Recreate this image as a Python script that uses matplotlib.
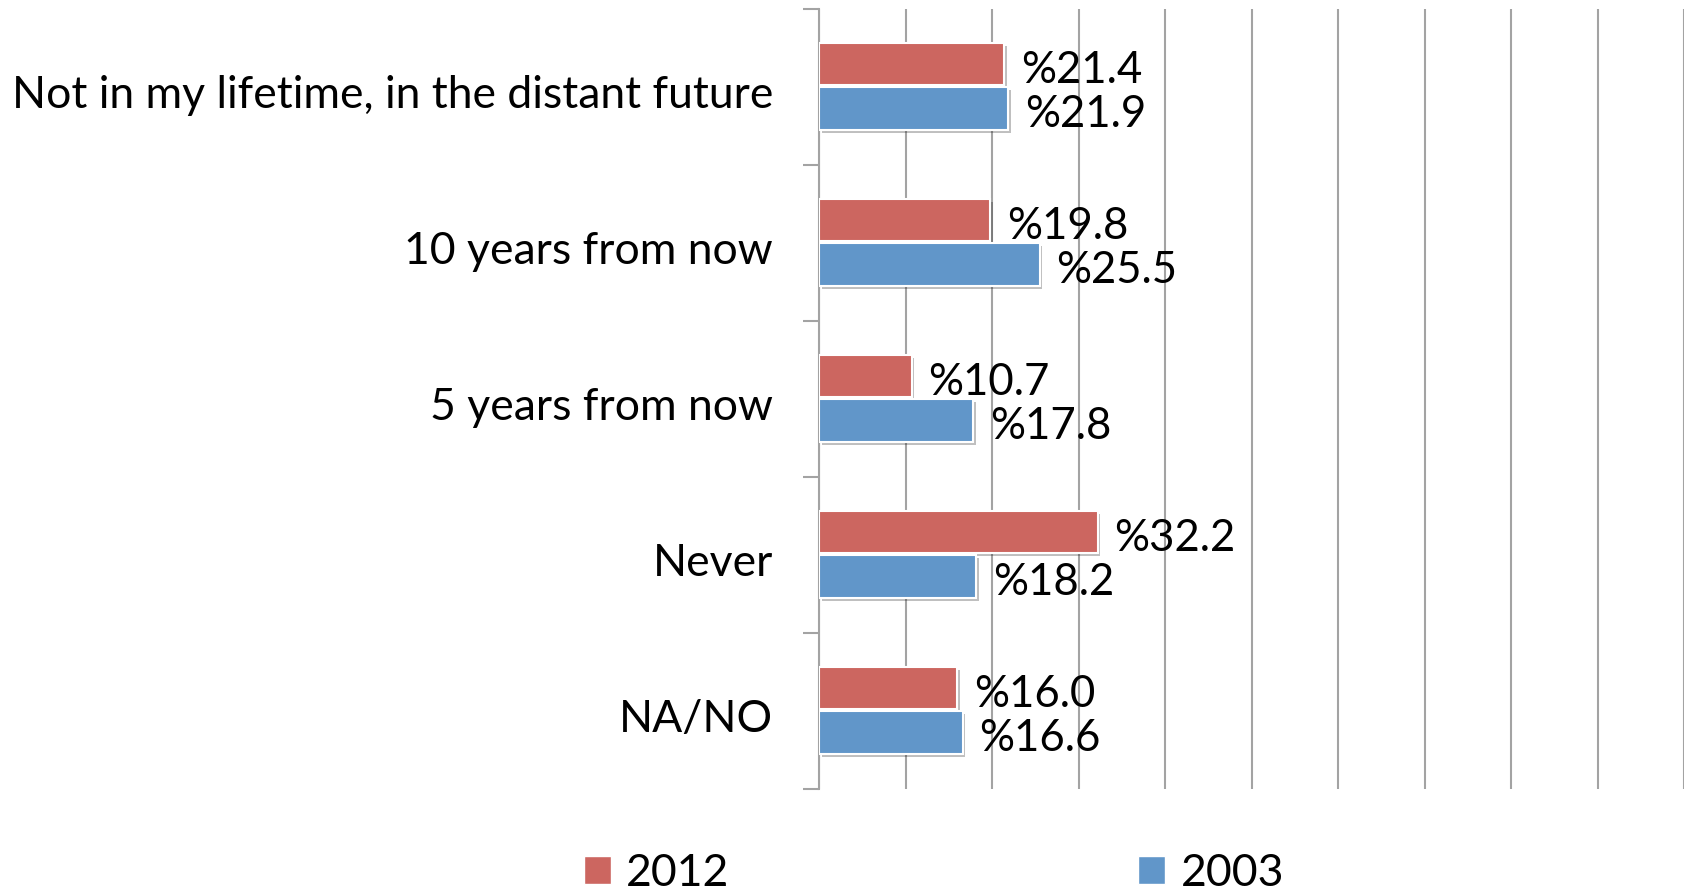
import matplotlib
matplotlib.use("Agg")
import matplotlib.pyplot as plt
import matplotlib.patheffects as pe
from matplotlib.patches import Patch
from matplotlib.transforms import ScaledTranslation
import numpy as np

categories = ["Not in my lifetime, in the distant future", "10 years from now",
              "5 years from now", "Never", "NA/NO"]
values_2012 = [21.4, 19.8, 10.7, 32.2, 16.0]
values_2003 = [21.9, 25.5, 17.8, 18.2, 16.6]
series_names = ["2012", "2003"]

plt.rcParams['font.family'] = ['Lato', 'DejaVu Sans']

fig = plt.figure(figsize=(16.92, 8.91), dpi=100)
ax = fig.add_axes([819/1692, 1-789/891, (1684-819)/1692, (789-9)/891])

red = "#CC6660"
blue = "#6196C9"
grid = "#A3A3A3"
y = np.arange(len(categories))
h = 0.272
shadow = [pe.SimplePatchShadow(offset=(2, -2), shadow_rgbFace="#000000", alpha=0.25), pe.Normal()]

b1 = ax.barh(y - 0.147, values_2012, height=h, color=red, edgecolor="white", linewidth=1.5, zorder=3)
b2 = ax.barh(y + 0.138, values_2003, height=h, color=blue, edgecolor="white", linewidth=1.5, zorder=3)
for bars in (b1, b2):
    for r in bars:
        r.set_path_effects(shadow)

for bars, vals in ((b1, values_2012), (b2, values_2003)):
    for r, v in zip(bars, vals):
        ax.annotate(f"%{v:.1f}", xy=(r.get_width(), r.get_y() + r.get_height()/2),
                    xytext=(12, -4.5), textcoords="offset points", va="center", ha="left",
                    fontsize=31.5, color="black", zorder=4)

ax.set_xlim(0, 100)
ax.set_ylim(4.5, -0.5)
ax.set_xticks(np.arange(0, 101, 10))
ax.xaxis.grid(True, color=grid, linewidth=1.5)
ax.set_axisbelow(True)
ax.tick_params(axis="x", length=0, labelbottom=False)

ax.set_yticks(np.arange(-0.5, 4.6, 1.0))
ax.set_yticklabels([])
ax.set_yticks(y, minor=True)
ax.set_yticklabels(categories, minor=True, fontsize=32)
ax.tick_params(axis="y", which="major", length=11.5, width=1.5, color=grid)
ax.tick_params(axis="y", which="minor", length=0, pad=33)
for lbl in ax.get_yticklabels(minor=True):
    lbl.set_transform(lbl.get_transform() + ScaledTranslation(0, -0.045, fig.dpi_scale_trans))

for s in ("top", "right", "bottom"):
    ax.spines[s].set_visible(False)
ax.spines["left"].set_color(grid)
ax.spines["left"].set_linewidth(1.5)

handles = [Patch(facecolor=red, edgecolor="white"), Patch(facecolor=blue, edgecolor="white")]
fig.legend(handles, series_names, loc="center", bbox_to_anchor=(934/1692, 1-873/891),
           ncol=2, frameon=False, fontsize=32, handlelength=0.6, handleheight=0.6,
           handletextpad=0.35, columnspacing=9.2, borderpad=0, borderaxespad=0)

fig.savefig("out.png", dpi=100)
